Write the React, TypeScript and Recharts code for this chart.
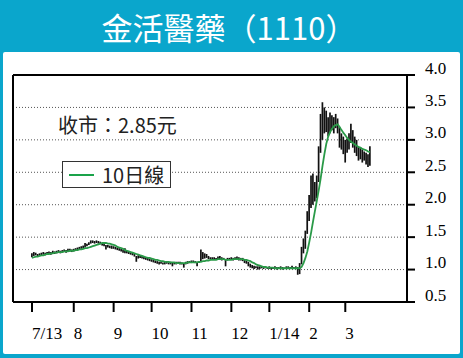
import {
  Bar,
  CartesianGrid,
  ComposedChart,
  Legend,
  Line,
  ReferenceLine,
  XAxis,
  YAxis,
} from "recharts";

const TITLE = "金活醫藥（1110）";
const CLOSE_LABEL = "收市：2.85元";
const MA_LABEL = "10日線";

// trading-day index of each month start, and its label
const MONTH_TICKS = [0, 22, 43, 63, 84, 105, 125, 146, 165];
const MONTH_LABELS = ["7/13", "8", "9", "10", "11", "12", "1/14", "2", "3"];
const PRICE_TICKS = [0.5, 1.0, 1.5, 2.0, 2.5, 3.0, 3.5, 4.0];

// daily lows / highs, 2013-07 .. 2014-03
const LOW = [
  1.19, 1.21, 1.22, 1.2, 1.21, 1.22, 1.23, 1.22, 1.23, 1.24, 1.23, 1.25, 1.24, 1.25, 1.26, 1.25, 1.26, 1.27, 1.26, 1.27, 1.28, 1.27,
  1.28, 1.29, 1.3, 1.31, 1.32, 1.33, 1.34, 1.36, 1.38, 1.4, 1.41, 1.4, 1.41, 1.4, 1.39, 1.37, 1.36, 1.31, 1.34, 1.33, 1.32,
  1.32, 1.31, 1.3, 1.29, 1.28, 1.26, 1.25, 1.25, 1.24, 1.23, 1.22, 1.2, 1.12, 1.17, 1.18, 1.17, 1.16, 1.15, 1.14, 1.13,
  1.12, 1.11, 1.1, 1.09, 1.08, 1.09, 1.08, 1.08, 1.09, 1.08, 1.08, 1.05, 1.08, 1.08, 1.09, 1.08, 1.08, 1.03, 1.08, 1.09, 1.1,
  1.1, 1.11, 1.1, 1.05, 1.1, 1.12, 1.16, 1.17, 1.18, 1.16, 1.16, 1.15, 1.16, 1.15, 1.16, 1.15, 1.14, 1.15, 1.05, 1.14, 1.15,
  1.15, 1.14, 1.15, 1.15, 1.14, 1.14, 1.13, 1.1, 1.09, 1.05, 1.03, 1.02, 1.01, 1.02, 1.0, 1.01, 1.02, 1.01, 1.02, 1.01,
  1.01, 1.0, 1.01, 1.01, 1.0, 1.01, 1.02, 1.0, 1.01, 1.01, 1.02, 1.01, 1.02, 1.01, 1.01, 0.92, 0.93,
  1.08, 1.25, 1.32, 1.55, 1.75, 1.95, 2.0, 2.05, 2.1, 2.35, 2.8, 3.0, 3.1, 3.12, 3.05, 3.1, 3.15, 3.1, 3.18, 3.1,
  2.88, 2.85, 2.78, 2.65, 2.8, 2.85, 2.95, 2.88, 2.8, 2.75, 2.68, 2.7, 2.65, 2.68, 2.62, 2.58, 2.6,
];

const HIGH = [
  1.25, 1.27, 1.26, 1.24, 1.25, 1.26, 1.27, 1.26, 1.27, 1.28, 1.27, 1.29, 1.28, 1.29, 1.3, 1.29, 1.3, 1.31, 1.3, 1.32, 1.32, 1.31,
  1.32, 1.33, 1.34, 1.35, 1.36, 1.37, 1.41, 1.4, 1.42, 1.45, 1.45, 1.44, 1.45, 1.44, 1.43, 1.41, 1.4, 1.38, 1.38, 1.37, 1.37,
  1.36, 1.35, 1.34, 1.33, 1.32, 1.31, 1.33, 1.29, 1.28, 1.27, 1.26, 1.24, 1.21, 1.22, 1.22, 1.21, 1.2, 1.19, 1.18, 1.17,
  1.16, 1.15, 1.14, 1.13, 1.12, 1.12, 1.11, 1.12, 1.12, 1.11, 1.12, 1.11, 1.11, 1.12, 1.12, 1.12, 1.11, 1.1, 1.12, 1.13, 1.13,
  1.14, 1.14, 1.13, 1.12, 1.13, 1.31, 1.27, 1.25, 1.24, 1.21, 1.19, 1.19, 1.19, 1.18, 1.2, 1.21, 1.19, 1.18, 1.16, 1.18, 1.18,
  1.19, 1.18, 1.19, 1.2, 1.19, 1.18, 1.18, 1.16, 1.14, 1.12, 1.09, 1.07, 1.06, 1.05, 1.05, 1.05, 1.05, 1.04, 1.05, 1.04,
  1.05, 1.04, 1.04, 1.05, 1.04, 1.04, 1.05, 1.04, 1.03, 1.05, 1.05, 1.04, 1.06, 1.04, 1.05, 1.04, 1.1,
  1.35, 1.48, 1.6, 1.9, 2.15, 2.45, 2.48, 2.35, 2.45, 2.9, 3.4, 3.58, 3.5, 3.45, 3.35, 3.42, 3.38, 3.35, 3.4, 3.33,
  3.2, 3.1, 3.05, 3.0, 3.02, 3.1, 3.25, 3.15, 3.05, 3.0, 2.9, 2.88, 2.85, 2.82, 2.8, 2.78, 2.9,
];

const MA10 = [
  1.18, 1.19, 1.2, 1.2, 1.21, 1.22, 1.22, 1.23, 1.24, 1.24, 1.25, 1.25, 1.26, 1.26, 1.27, 1.27, 1.27, 1.28, 1.28, 1.28, 1.29, 1.29,
  1.29, 1.3, 1.3, 1.31, 1.31, 1.32, 1.33, 1.33, 1.34, 1.35, 1.36, 1.37, 1.38, 1.39, 1.4, 1.41, 1.41, 1.41, 1.4, 1.4, 1.39,
  1.38, 1.37, 1.35, 1.34, 1.33, 1.32, 1.3, 1.29, 1.28, 1.27, 1.26, 1.25, 1.24, 1.23, 1.22, 1.21, 1.2, 1.19, 1.18, 1.18,
  1.17, 1.16, 1.15, 1.15, 1.14, 1.13, 1.13, 1.12, 1.12, 1.12, 1.11, 1.11, 1.11, 1.1, 1.1, 1.1, 1.1, 1.1, 1.1, 1.11, 1.11,
  1.11, 1.11, 1.11, 1.11, 1.12, 1.12, 1.13, 1.13, 1.14, 1.14, 1.15, 1.15, 1.15, 1.15, 1.16, 1.16, 1.16, 1.16, 1.15, 1.15, 1.15,
  1.15, 1.16, 1.16, 1.16, 1.16, 1.16, 1.16, 1.15, 1.15, 1.14, 1.13, 1.11, 1.1, 1.08, 1.07, 1.06, 1.05, 1.04, 1.04, 1.03,
  1.03, 1.03, 1.03, 1.02, 1.02, 1.02, 1.02, 1.02, 1.02, 1.02, 1.02, 1.02, 1.02, 1.02, 1.02, 1.02,
  1.02, 1.04, 1.1, 1.18, 1.28, 1.42, 1.57, 1.74, 1.9, 2.06, 2.22, 2.4, 2.6, 2.78, 2.94, 3.05, 3.12, 3.17, 3.21, 3.23, 3.24,
  3.2, 3.15, 3.11, 3.07, 3.03, 3.0, 2.97, 2.95, 2.93, 2.91, 2.89, 2.88, 2.86, 2.85, 2.84, 2.82, 2.81,
];

const data = LOW.map((low, i) => ({ day: i, range: [low, HIGH[i]], ma: MA10[i] }));

const BG = "#0aa6cc";
const GREEN = "#2a9a48";
const SERIF = "'Liberation Serif', 'Times New Roman', serif";
const SANS = "'Noto Sans CJK TC', 'Noto Sans', sans-serif";
const X_MIN = -10;
const X_MAX = 197.5;

const MonthTick = (props: any) => {
  const { x, y, payload } = props;
  const label = MONTH_LABELS[MONTH_TICKS.indexOf(payload.value)];
  return (
    <text x={x} y={y + 19} textAnchor="start" dominantBaseline="central" fontFamily={SERIF} fontSize={17} fill="#000">
      {label}
    </text>
  );
};

const PriceTick = (props: any) => {
  const { x, y, payload } = props;
  return (
    <text x={x + 8} y={y - 7} textAnchor="start" dominantBaseline="central" fontFamily={SERIF} fontSize={17} fill="#000">
      {payload.value.toFixed(1)}
    </text>
  );
};

const MaLegend = () => (
  <div
    style={{
      width: 107,
      height: 25,
      border: "1px solid #333",
      background: "#fff",
      display: "flex",
      alignItems: "center",
      fontFamily: SANS,
      fontSize: 20,
      color: "#222",
      lineHeight: 1,
    }}
  >
    <div style={{ width: 25, height: 2, background: "#1aa34a", marginLeft: 6, marginRight: 8 }} />
    <span>{MA_LABEL}</span>
  </div>
);

export default function App() {
  return (
    <div style={{ position: "fixed", left: 0, top: 0, width: 463, height: 358, background: BG, overflow: "hidden" }}>
      <div
        style={{
          position: "absolute",
          left: 0,
          top: 11,
          width: 458,
          textAlign: "center",
          fontFamily: SANS,
          fontSize: 31,
          lineHeight: 1,
          color: "#fff",
        }}
      >
        {TITLE}
      </div>
      <div style={{ position: "absolute", left: 3, top: 52, width: 457, height: 302, background: "#fff", borderRadius: 2 }} />
      <div
        style={{
          position: "absolute",
          left: 58,
          top: 115,
          fontFamily: SANS,
          fontSize: 20,
          lineHeight: 1,
          color: "#222",
          whiteSpace: "nowrap",
        }}
      >
        {CLOSE_LABEL}
      </div>
      <div style={{ position: "absolute", left: 0, top: 0 }}>
        <ComposedChart width={463} height={358} data={data} margin={{ top: 75, right: 6, bottom: 16, left: 13 }}>
          <CartesianGrid vertical={false} stroke="#555" strokeDasharray="1 2" />
          <XAxis
            dataKey="day"
            type="number"
            domain={[X_MIN, X_MAX]}
            allowDataOverflow
            ticks={MONTH_TICKS}
            interval={0}
            height={40}
            tickSize={10}
            axisLine={{ stroke: "#000", strokeWidth: 2 }}
            tickLine={{ stroke: "#000", strokeWidth: 2 }}
            tick={<MonthTick />}
          />
          <YAxis
            orientation="right"
            domain={[0.5, 4]}
            ticks={PRICE_TICKS}
            interval={0}
            width={50}
            tickSize={8}
            axisLine={{ stroke: "#000", strokeWidth: 2 }}
            tickLine={{ stroke: "#000", strokeWidth: 2 }}
            tick={<PriceTick />}
          />
          <ReferenceLine x={X_MIN} stroke="#000" strokeWidth={2} />
          <ReferenceLine y={4} stroke="#000" strokeWidth={2} />
          <Bar dataKey="range" fill="#111" barSize={2} isAnimationActive={false} legendType="none" />
          <Line
            dataKey="ma"
            type="linear"
            stroke={GREEN}
            strokeWidth={1.8}
            dot={false}
            isAnimationActive={false}
          />
          <Legend
            layout="horizontal"
            align="center"
            verticalAlign="middle"
            content={<MaLegend />}
            wrapperStyle={{ position: "absolute", left: 62, top: 161, width: 109, height: 27, bottom: "auto" }}
          />
        </ComposedChart>
      </div>
    </div>
  );
}
